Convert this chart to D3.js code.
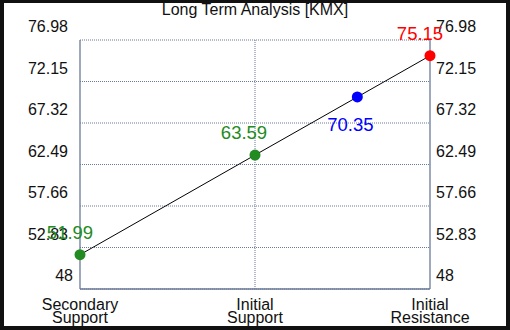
<!DOCTYPE html>
<html>
<head>
<meta charset="utf-8">
<script src="https://cdn.jsdelivr.net/npm/d3@7"></script>
<style>
  html, body { margin: 0; padding: 0; background: #111; }
  svg { display: block; }
  text { font-family: "Liberation Sans", Arial, sans-serif; }
</style>
</head>
<body>
<div id="chart"></div>
<script>
// chart data
const categories = [["Secondary", "Support"], ["Initial", "Support"], ["Initial", "Resistance"]];
const yTicks = [48, 52.83, 57.66, 62.49, 67.32, 72.15, 76.98];
const levelNames = ["Secondary Support", "Initial Support", "Current", "Initial Resistance"];
const levelValues = [51.99, 63.59, 70.35, 75.15];
const levelColors = ["#228b22", "#228b22", "#0000ff", "#ff0000"];
const title = "Long Term Analysis [KMX]";

const width = 510, height = 330;
const margin = { top: 40, right: 80, bottom: 41, left: 80 };

const svg = d3.select("#chart").append("svg")
    .attr("width", width)
    .attr("height", height);

// dark frame around white panel
svg.append("rect").attr("width", width).attr("height", height).attr("fill", "#111");
svg.append("rect").attr("x", 4).attr("y", 3).attr("width", width - 8).attr("height", height - 7).attr("fill", "#fff");

const x = d3.scaleLinear().domain([0, 2]).range([margin.left, width - margin.right]);
const y = d3.scaleLinear().domain([48, 76.98]).range([height - margin.bottom, margin.top]);

const gridColor = "#6b7a99";

// horizontal grid lines (dotted)
svg.append("g").selectAll("line")
    .data(yTicks)
    .join("line")
    .attr("x1", x(0)).attr("x2", x(2))
    .attr("y1", d => y(d)).attr("y2", d => y(d))
    .attr("stroke", gridColor)
    .attr("stroke-width", 1)
    .attr("stroke-dasharray", "1,1");

// middle vertical grid line
svg.append("line")
    .attr("x1", x(1)).attr("x2", x(1))
    .attr("y1", y(76.98)).attr("y2", y(48))
    .attr("stroke", gridColor)
    .attr("stroke-dasharray", "1,1");

// solid axis lines: left, right, bottom
svg.append("line").attr("x1", x(0)).attr("x2", x(0)).attr("y1", y(76.98)).attr("y2", y(48))
    .attr("stroke", gridColor).attr("stroke-width", 1.3);
svg.append("line").attr("x1", x(2)).attr("x2", x(2)).attr("y1", y(76.98)).attr("y2", y(48))
    .attr("stroke", gridColor).attr("stroke-width", 1.3);
svg.append("line").attr("x1", x(0)).attr("x2", x(2)).attr("y1", y(48)).attr("y2", y(48))
    .attr("stroke", gridColor).attr("stroke-width", 1.3);

// tick labels, sitting above each grid line
const fmt = d => String(d);
svg.append("g").selectAll("text")
    .data(yTicks)
    .join("text")
    .attr("x", d => d === 48 ? 73 : 68)
    .attr("y", d => y(d) - 8)
    .attr("text-anchor", "end")
    .attr("font-size", 16)
    .attr("fill", "#111")
    .text(fmt);
svg.append("g").selectAll("text")
    .data(yTicks)
    .join("text")
    .attr("x", x(2) + 6)
    .attr("y", d => y(d) - 8)
    .attr("font-size", 16)
    .attr("fill", "#111")
    .text(fmt);

// category labels
svg.append("g").selectAll("text")
    .data(categories)
    .join("text")
    .attr("x", (d, i) => x(i))
    .attr("y", 310)
    .attr("text-anchor", "middle")
    .attr("font-size", 16)
    .attr("fill", "#111")
    .each(function (d) {
        d3.select(this).selectAll("tspan")
            .data(d)
            .join("tspan")
            .attr("x", d3.select(this).attr("x"))
            .attr("dy", (t, j) => j === 0 ? 0 : 13)
            .text(t => t);
    });

// title
svg.append("text")
    .attr("x", width / 2)
    .attr("y", 15)
    .attr("text-anchor", "middle")
    .attr("font-size", 16)
    .attr("fill", "#111")
    .text(title);

// point positions: supports/resistance on categories, current price on the line between them
const pos = levelValues.map((v, i) => {
    if (i === 2) {
        const t = (v - levelValues[1]) / (levelValues[3] - levelValues[1]);
        return 1 + t;
    }
    return i < 2 ? i : 2;
});
const pts = levelValues.map((v, i) => ({ name: levelNames[i], v, px: pos[i], color: levelColors[i] }));

svg.append("path")
    .datum(pts.filter((d, i) => i !== 2))
    .attr("d", d3.line().x(d => x(d.px)).y(d => y(d.v)))
    .attr("fill", "none")
    .attr("stroke", "#000")
    .attr("stroke-width", 1);

svg.append("g").selectAll("circle")
    .data(pts)
    .join("circle")
    .attr("cx", d => x(d.px))
    .attr("cy", d => y(d.v))
    .attr("r", 5.5)
    .attr("fill", d => d.color);

// value labels
const offsets = [[-10, -16], [-11, -16], [-7, 34], [-10, -16]];
svg.append("g").selectAll("text")
    .data(pts)
    .join("text")
    .attr("x", (d, i) => x(d.px) + offsets[i][0])
    .attr("y", (d, i) => y(d.v) + offsets[i][1])
    .attr("text-anchor", "middle")
    .attr("font-size", 18.5)
    .attr("fill", d => d.color)
    .text(d => d.v.toFixed(2));
</script>
</body>
</html>
